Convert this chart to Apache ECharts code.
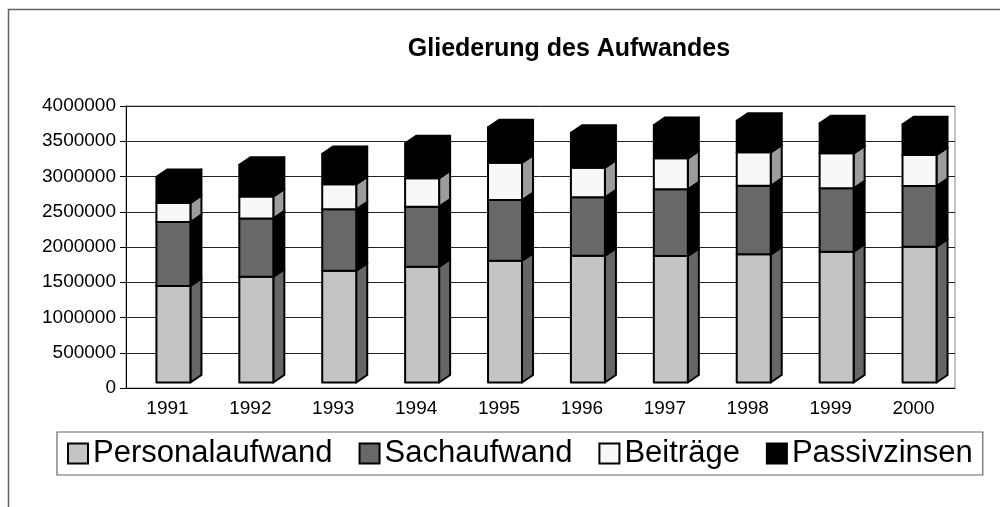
<!DOCTYPE html>
<html>
<head>
<meta charset="utf-8">
<script src="https://cdn.jsdelivr.net/npm/echarts@6/dist/echarts.min.js"></script>
<style>
    html, body { margin: 0; padding: 0; background: #fff; }
    #chart { width: 1000px; height: 507px; }
</style>
</head>
<body>
<div id="chart"></div>
<script>
var years = ['1991', '1992', '1993', '1994', '1995', '1996', '1997', '1998', '1999', '2000'];
var personalaufwand = [1369000, 1500000, 1586000, 1643000, 1728000, 1799000, 1794000, 1818000, 1855000, 1926000];
var sachaufwand = [908000, 828000, 871000, 851000, 861000, 828000, 946000, 973000, 900000, 861000];
var beitraege = [270000, 310000, 355000, 403000, 529000, 420000, 440000, 474000, 496000, 440000];
var passivzinsen = [369000, 450000, 430000, 496000, 502000, 496000, 473000, 448000, 426000, 435000];
var yTicks = [0, 4000000, 500000];

var seriesNames = ['Personalaufwand', 'Sachaufwand', 'Beiträge', 'Passivzinsen'];
var seriesValues = [personalaufwand, sachaufwand, beitraege, passivzinsen];
var frontColors = ['#c4c4c4', '#686868', '#f8f8f8', '#000000'];
var sideColors = ['#666666', '#000000', '#9c9c9c', '#000000'];

// stacked [index, base, top] rows for the custom series
function stackRows(k) {
    return years.map(function (y, i) {
        var base = 0;
        for (var j = 0; j < k; j++) base += seriesValues[j][i];
        return [i, base, base + seriesValues[k][i]];
    });
}

function boxRenderer(k) {
    return function (params, api) {
        var idx = api.value(0);
        var bottom = api.coord([idx, api.value(1)]);
        var top = api.coord([idx, api.value(2)]);
        var band = api.size([1, 0])[0];
        var depthX = band * 0.133;
        var depthY = 7.5;
        var lift = -5.5;
        var x0 = bottom[0] - band * 0.133;
        var x1 = x0 + band * 0.41;
        var yB = bottom[1] + lift;
        var yT = top[1] + lift;
        var line = { stroke: '#000', lineWidth: 2, lineJoin: 'round' };
        return {
            type: 'group',
            children: [
                {
                    type: 'polygon',
                    shape: { points: [[x1, yB], [x1 + depthX, yB - depthY], [x1 + depthX, yT - depthY], [x1, yT]] },
                    style: Object.assign({ fill: sideColors[k] }, line)
                },
                {
                    type: 'polygon',
                    shape: { points: [[x0, yT], [x1, yT], [x1 + depthX, yT - depthY], [x0 + depthX, yT - depthY]] },
                    style: Object.assign({ fill: frontColors[k] }, line)
                },
                {
                    type: 'rect',
                    shape: { x: x0, y: yT, width: x1 - x0, height: yB - yT },
                    style: Object.assign({ fill: frontColors[k] }, line)
                }
            ]
        };
    };
}

var chart = echarts.init(document.getElementById('chart'));
var option = {
    animation: false,
    backgroundColor: '#fff',
    textStyle: { fontFamily: 'Liberation Sans' },
    title: {
        text: 'Gliederung des Aufwandes',
        left: 564,
        textAlign: 'center',
        top: 32,
        textStyle: { fontSize: 25, fontWeight: 'bold', color: '#000', fontFamily: 'Liberation Sans' }
    },
    graphic: [{
        type: 'rect',
        shape: { x: 8.5, y: 9.5, width: 1100, height: 600 },
        style: { fill: null, stroke: '#666', lineWidth: 1.5 },
        silent: true
    }],
    legend: {
        left: 57,
        top: 432,
        padding: [6, 10],
        itemGap: 26,
        itemWidth: 20,
        itemHeight: 20,
        borderColor: '#666',
        borderWidth: 1.2,
        textStyle: { fontSize: 31, color: '#000', fontFamily: 'Liberation Sans' },
        data: seriesNames.map(function (name, k) {
            return {
                name: name,
                icon: 'rect',
                itemStyle: { color: frontColors[k], borderColor: '#000', borderWidth: 2 }
            };
        })
    },
    grid: {
        left: 126,
        right: 45,
        top: 106,
        bottom: 119,
        show: true,
        borderColor: '#888',
        borderWidth: 1
    },
    xAxis: {
        type: 'category',
        data: years,
        axisLine: { lineStyle: { color: '#000', width: 1 } },
        axisTick: { length: 6, lineStyle: { color: '#000' } },
        axisLabel: { margin: 11, fontSize: 19, color: '#000', fontFamily: 'Liberation Sans' }
    },
    yAxis: {
        type: 'value',
        min: yTicks[0],
        max: yTicks[1],
        interval: yTicks[2],
        axisLine: { show: true, lineStyle: { color: '#000', width: 1 } },
        axisTick: { show: true, length: 6, lineStyle: { color: '#000' } },
        axisLabel: {
            margin: 10, fontSize: 19, color: '#000', fontFamily: 'Liberation Sans',
            formatter: function (v) { return String(v); }
        },
        splitLine: { lineStyle: { color: '#222', width: 1 } }
    },
    series: seriesNames.map(function (name, k) {
        return {
            name: name,
            type: 'custom',
            renderItem: boxRenderer(k),
            itemStyle: { color: frontColors[k], borderColor: '#000', borderWidth: 2 },
            encode: { x: 0, y: [1, 2] },
            data: stackRows(k)
        };
    })
};
chart.setOption(option);
window.addEventListener('resize', function () {
    chart.resize();
});
</script>
</body>
</html>
